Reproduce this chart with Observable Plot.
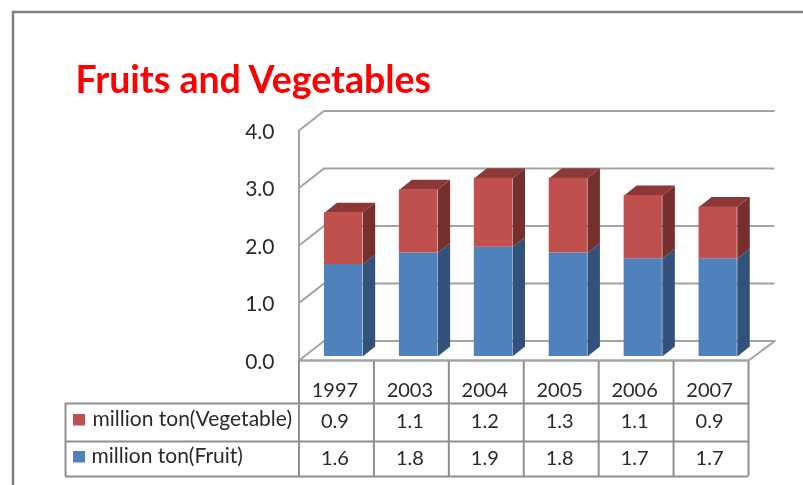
<!DOCTYPE html>
<html>
<head>
<meta charset="utf-8">
<script src="https://cdn.jsdelivr.net/npm/d3@7"></script>
<script src="https://cdn.jsdelivr.net/npm/@observablehq/plot@0.6"></script>
<style>
  html,body{margin:0;padding:0;background:#fff;}
  svg{display:block;filter:blur(0.4px);}
</style>
</head>
<body>
<div id="chart"></div>
<script>
const categories = ["1997","2003","2004","2005","2006","2007"];
const vegetable = [0.9,1.1,1.2,1.3,1.1,0.9];
const fruit = [1.6,1.8,1.9,1.8,1.7,1.7];
const yTicks = [0,1,2,3,4];
const titleText = "Fruits and Vegetables";
const vegLabel = "million ton(Vegetable)";
const fruitLabel = "million ton(Fruit)";

const RED = {front:"#c0504d", side:"#772f2d", top:"#8c3836"};
const BLUE = {front:"#4f81bd", side:"#32527b"};
const GRID = "#a3a3a3", TBL = "#8f8f8f";

// pixel <-> data helpers for the furniture outside the plot's value range
const L = 298.5, R = 748, B = 360, T = 130;
const ux = (R-L)/6, uy = (B-T)/4;
const X = p => (p-L)/ux, Y = p => (B-p)/uy;

// 3-D depth in data units
const wallDx = 25/ux, wallDy = 19.5/uy;
const barDx = 12.5/ux, barDy = 10/uy;
const barL = 0.34, barR = 0.85, lift = -4;

const segs = categories.flatMap((c,i)=>[
  {i, y0:0, y1:fruit[i], c:BLUE},
  {i, y0:fruit[i], y1:fruit[i]+vegetable[i], c:RED}
]);
const poly = [];
segs.forEach((s,k)=>{
  const xr = s.i+barR, xl = s.i+barL;
  [[xr,s.y0],[xr+barDx,s.y0+barDy],[xr+barDx,s.y1+barDy],[xr,s.y1]]
    .forEach(([x,y])=>poly.push({x,y,id:"s"+k,fill:s.c.side}));
  if (s.c===RED)
    [[xl,s.y1],[xl+barDx,s.y1+barDy],[xr+barDx,s.y1+barDy],[xr,s.y1]]
      .forEach(([x,y])=>poly.push({x,y,id:"t"+k,fill:s.c.top}));
});

const wallLines = yTicks.flatMap(v=>[
  {x:0,y:v,id:v},{x:wallDx,y:v+wallDy,id:v}
]);
const floorRight = [{x:6,y:0},{x:6+wallDx*1.06,y:wallDy}];

const colXs = d3.range(0,7);
const rowPx = [403,441,476];
const textFont = {fontFamily:"Lato, sans-serif", fontSize:20, fill:"#2a2a2a"};

const chart = Plot.plot({
  width:803, height:485,
  marginLeft:L, marginRight:803-R, marginTop:T, marginBottom:485-B,
  style:{background:"#fff", fontFamily:"Lato, sans-serif", overflow:"visible"},
  x:{domain:[0,6], range:[L,R]},
  y:{domain:[0,4], range:[B,T]},
  marks:[
    // outer frame
    Plot.ruleY([Y(11.5)],{x1:X(12),x2:X(803),stroke:"#808080",strokeWidth:2.5}),
    Plot.ruleX([X(12.5)],{y1:Y(11),y2:Y(485),stroke:"#808080",strokeWidth:2.5}),
    // walls
    Plot.ruleY(yTicks.slice(1),{x1:wallDx,x2:6+wallDx*1.06,y:d=>d+wallDy,stroke:GRID,strokeWidth:2}),
    Plot.ruleY([wallDy],{x1:wallDx,x2:6+wallDx*1.06,stroke:GRID,strokeWidth:2}),
    Plot.line(wallLines,{x:"x",y:"y",z:"id",stroke:GRID,strokeWidth:2}),
    Plot.line(floorRight,{x:"x",y:"y",stroke:GRID,strokeWidth:2}),
    Plot.ruleX([0],{y1:0,y2:4,stroke:GRID,strokeWidth:2}),
    Plot.ruleY([0],{x1:0,x2:6,stroke:GRID,strokeWidth:2.5}),
    // bars
    Plot.line(poly,{x:"x",y:"y",z:"id",fill:"fill",stroke:null,curve:"linear-closed",dy:lift}),
    Plot.rect(segs,{x1:d=>d.i+barL,x2:d=>d.i+barR,y1:"y0",y2:"y1",fill:d=>d.c.front,dy:lift}),
    // axes
    Plot.axisY({ticks:yTicks,tickSize:0,tickPadding:24.5,tickFormat:d3.format(".1f"),label:null,fontSize:21,fill:"#2a2a2a",dy:1.5}),
    Plot.axisX({ticks:colXs.slice(0,6).map(i=>i+0.5),tickFormat:d=>categories[d-0.5],tickSize:0,tickPadding:22.5,label:null,fontSize:20,fill:"#2a2a2a",dx:-1.5}),
    // data table
    Plot.ruleY(rowPx,{y:Y,x1:X(65),x2:6,stroke:TBL,strokeWidth:2}),
    Plot.ruleX(colXs,{y1:Y(361),y2:Y(476),stroke:TBL,strokeWidth:2}),
    Plot.ruleX([X(65)],{y1:Y(403),y2:Y(476),stroke:TBL,strokeWidth:2}),
    Plot.text(vegetable,{x:(d,i)=>i+0.5,y:()=>Y(421),text:d=>d.toFixed(1),...textFont,dx:-1.5}),
    Plot.text(fruit,{x:(d,i)=>i+0.5,y:()=>Y(458),text:d=>d.toFixed(1),...textFont,dx:-1.5}),
    Plot.rect([RED.front],{x1:X(73),x2:X(85),y1:Y(425.5),y2:Y(414),fill:d=>d}),
    Plot.rect([BLUE.front],{x1:X(73),x2:X(85),y1:Y(462.5),y2:Y(451),fill:d=>d}),
    Plot.text([vegLabel],{x:X(92),y:Y(419),text:d=>d,textAnchor:"start",...textFont,fontSize:21}),
    Plot.text([fruitLabel],{x:X(91),y:Y(456),text:d=>d,textAnchor:"start",...textFont,fontSize:21}),
    // title
    Plot.text([titleText],{x:X(75),y:Y(80),text:d=>d,textAnchor:"start",fontFamily:"Lato, sans-serif",fontWeight:"bold",fontSize:37.5,fill:"#ff0000"})
  ]
});
document.getElementById("chart").appendChild(chart);
</script>
</body>
</html>
